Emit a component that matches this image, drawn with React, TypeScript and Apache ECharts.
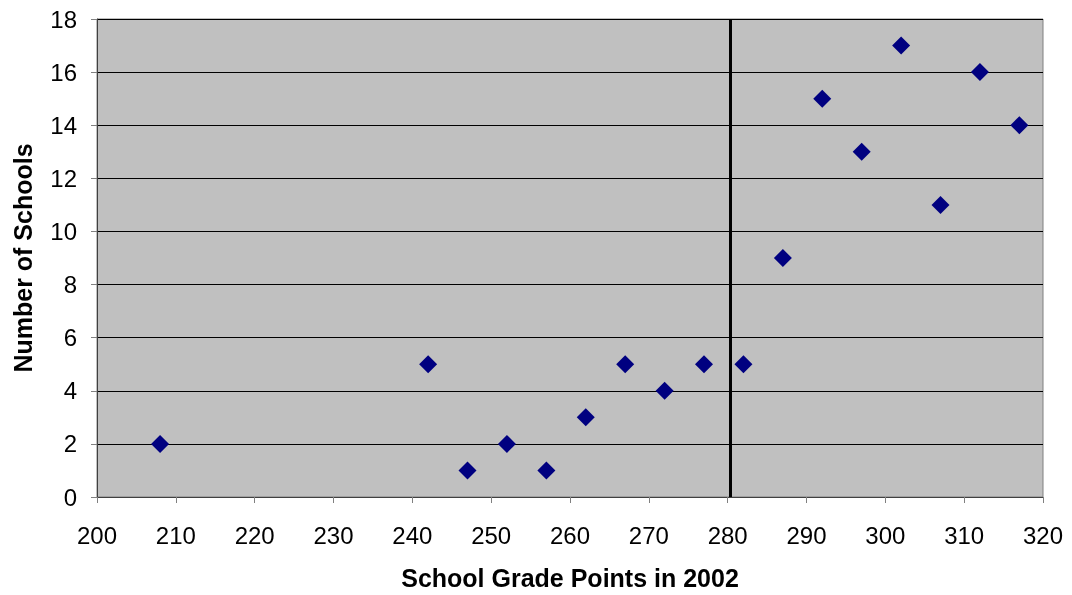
import React, { useEffect, useRef } from "react";
import * as echarts from "echarts";

const gradePoints = [208, 242, 247, 252, 257, 262, 267, 272, 277, 282, 287, 292, 297, 302, 307, 312, 317];
const schoolCounts = [2, 5, 1, 2, 1, 3, 5, 4, 5, 5, 9, 15, 13, 17, 11, 16, 14];
const cutoffLine = 280.3;
const xTitle = "School Grade Points in 2002";
const yTitle = "Number of Schools";

export default function App() {
  const ref = useRef<HTMLDivElement>(null);
  useEffect(() => {
    if (!ref.current) return;
    const chart = echarts.init(ref.current, null, { renderer: "svg" });
    const font = "'Liberation Sans', Arial, sans-serif";
    chart.setOption({
      animation: false,
      grid: {
        left: 97,
        top: 19,
        right: 29,
        bottom: 98,
        show: true,
        outerBoundsMode: "none",
        containLabel: false,
        backgroundColor: "#C0C0C0",
        borderColor: "#808080",
        borderWidth: 1,
      },
      xAxis: {
        type: "value",
        min: 200,
        max: 320,
        interval: 10,
        name: xTitle,
        nameLocation: "middle",
        nameGap: 68,
        nameTextStyle: { fontFamily: font, fontSize: 25, fontWeight: "bold", color: "#000" },
        axisLine: { show: true, onZero: false, lineStyle: { color: "#404040", width: 1 } },
        axisTick: { show: true, length: 6, lineStyle: { color: "#808080" } },
        axisLabel: { fontFamily: font, fontSize: 24, color: "#000", margin: 26 },
        splitLine: { show: false },
      },
      yAxis: {
        type: "value",
        min: 0,
        max: 18,
        interval: 2,
        name: yTitle,
        nameLocation: "middle",
        nameGap: 62,
        nameRotate: 90,
        nameTextStyle: { fontFamily: font, fontSize: 25, fontWeight: "bold", color: "#000" },
        axisLine: { show: true, lineStyle: { color: "#404040", width: 1 } },
        axisTick: { show: true, length: 6, lineStyle: { color: "#808080" } },
        axisLabel: { fontFamily: font, fontSize: 24, color: "#000", margin: 20 },
        splitLine: { show: true, lineStyle: { color: "#000", width: 1 } },
      },
      series: [
        {
          type: "scatter",
          symbol: "diamond",
          symbolSize: 18,
          itemStyle: { color: "#000080", opacity: 1 },
          data: gradePoints.map((x, i) => [x, schoolCounts[i]]),
          markLine: {
            silent: true,
            symbol: "none",
            label: { show: false },
            lineStyle: { color: "#000", width: 3, type: "solid" },
            data: [{ xAxis: cutoffLine }],
          },
        },
      ],
    });
    return () => chart.dispose();
  }, []);
  return <div ref={ref} style={{ position: "fixed", left: 0, top: 0, width: 1072, height: 595 }} />;
}
